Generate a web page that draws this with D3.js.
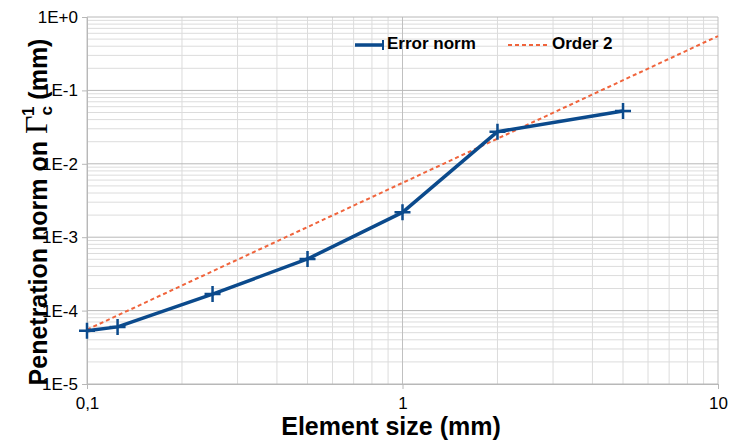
<!DOCTYPE html>
<html>
<head>
<meta charset="utf-8">
<script src="https://cdn.jsdelivr.net/npm/d3@7"></script>
<style>
  body { margin: 0; background: #fff; }
  text { font-family: "Liberation Sans", Arial, sans-serif; }
</style>
</head>
<body>
<svg width="731" height="441"></svg>
<script>
// data
const elemSize = [0.1, 0.125, 0.25, 0.5, 1, 2, 5];
const errorNorm = [5.3e-5, 6.0e-5, 1.68e-4, 5.05e-4, 2.18e-3, 2.74e-2, 5.24e-2];
const orderX = [0.1, 1, 10];
const order2 = [5.5e-5, 5.5e-3, 0.55];
const xTicks = [0.1, 1, 10];
const xTickLabels = ["0,1", "1", "10"];
const yTicks = [1e-5, 1e-4, 1e-3, 1e-2, 1e-1, 1];
const yTickLabels = ["1E-5", "1E-4", "1E-3", "1E-2", "1E-1", "1E+0"];

const svg = d3.select("svg");
const plotL = 87, plotR = 718, plotT = 17, plotB = 384;

const x = d3.scaleLog().domain([0.1, 10]).range([plotL, plotR]);
const y = d3.scaleLog().domain([1e-5, 1]).range([plotB, plotT]);

// minor grid (2..9 in every decade)
const minorX = [], minorY = [];
for (let d = 0.1; d < 10; d *= 10)
  for (let k = 2; k <= 9; k++) minorX.push(d * k);
for (let d = 1e-5; d < 1; d *= 10)
  for (let k = 2; k <= 9; k++) minorY.push(d * k);

svg.append("g").selectAll("line").data(minorX).join("line")
   .attr("x1", d => x(d)).attr("x2", d => x(d))
   .attr("y1", plotT).attr("y2", plotB)
   .attr("stroke", "#dcdcdc").attr("stroke-width", 1);

svg.append("g").selectAll("line").data(minorY).join("line")
   .attr("x1", plotL).attr("x2", plotR)
   .attr("y1", d => y(d)).attr("y2", d => y(d))
   .attr("stroke", "#dcdcdc").attr("stroke-width", 1);

// major grid
svg.append("g").selectAll("line").data(xTicks).join("line")
   .attr("x1", d => x(d)).attr("x2", d => x(d))
   .attr("y1", plotT).attr("y2", plotB)
   .attr("stroke", "#c0c0c0").attr("stroke-width", 1);

svg.append("g").selectAll("line").data(yTicks).join("line")
   .attr("x1", plotL).attr("x2", plotR)
   .attr("y1", d => y(d)).attr("y2", d => y(d))
   .attr("stroke", "#b8b8b8").attr("stroke-width", 1);

// axes (only labels + small ticks)
const xAxis = svg.append("g")
   .attr("transform", `translate(0,${plotB})`)
   .call(d3.axisBottom(x).tickValues(xTicks)
      .tickFormat((d, i) => xTickLabels[i]).tickSize(5).tickPadding(8));
xAxis.select(".domain").attr("stroke", "#b8b8b8");
xAxis.selectAll(".tick line").attr("stroke", "#b8b8b8");
xAxis.selectAll("text").attr("font-size", "17px").attr("fill", "#000")
   .attr("font-family", "Liberation Sans, Arial, sans-serif");

const yAxis = svg.append("g")
   .attr("transform", `translate(${plotL},0)`)
   .call(d3.axisLeft(y).tickValues(yTicks)
      .tickFormat((d, i) => yTickLabels[i]).tickSize(5).tickPadding(4));
yAxis.select(".domain").attr("stroke", "#b8b8b8");
yAxis.selectAll(".tick line").attr("stroke", "#b8b8b8");
yAxis.selectAll("text").attr("font-size", "17px").attr("fill", "#000")
   .attr("font-family", "Liberation Sans, Arial, sans-serif");

// order 2 reference line
const line = d3.line().x(d => x(d[0])).y(d => y(d[1]));
svg.append("path")
   .attr("d", line(orderX.map((v, i) => [v, order2[i]])))
   .attr("fill", "none")
   .attr("stroke", "#f0643c")
   .attr("stroke-width", 2)
   .attr("stroke-dasharray", "4,3");

// error norm series
const errData = elemSize.map((v, i) => [v, errorNorm[i]]);
svg.append("path")
   .attr("d", line(errData))
   .attr("fill", "none")
   .attr("stroke", "#0b4a8c")
   .attr("stroke-width", 3.5)
   .attr("stroke-linejoin", "round");

svg.append("g").selectAll("path").data(errData).join("path")
   .attr("d", d => `M${x(d[0]) - 8},${y(d[1])}h16M${x(d[0])},${y(d[1]) - 8}v16`)
   .attr("stroke", "#0b4a8c")
   .attr("stroke-width", 2.5);

// legend
svg.append("line")
   .attr("x1", 355).attr("x2", 384).attr("y1", 45).attr("y2", 45)
   .attr("stroke", "#0b4a8c").attr("stroke-width", 3.5);
svg.append("line")
   .attr("x1", 383).attr("x2", 383).attr("y1", 40).attr("y2", 50)
   .attr("stroke", "#0b4a8c").attr("stroke-width", 2);
svg.append("text")
   .attr("x", 387).attr("y", 49)
   .attr("font-size", "17px").attr("font-weight", "bold")
   .text("Error norm");

svg.append("line")
   .attr("x1", 508).attr("x2", 548).attr("y1", 45).attr("y2", 45)
   .attr("stroke", "#f0643c").attr("stroke-width", 2)
   .attr("stroke-dasharray", "4,3");
svg.append("text")
   .attr("x", 552).attr("y", 49)
   .attr("font-size", "17px").attr("font-weight", "bold")
   .text("Order 2");

// axis titles
svg.append("text")
   .attr("x", 391).attr("y", 435)
   .attr("text-anchor", "middle")
   .attr("font-size", "25px").attr("font-weight", "bold")
   .text("Element size (mm)");

const yTitle = svg.append("text")
   .attr("transform", "translate(47,212) rotate(-90)")
   .attr("text-anchor", "middle")
   .attr("font-size", "25px").attr("font-weight", "bold");
yTitle.append("tspan").text("Penetration norm on ");
yTitle.append("tspan")
   .attr("font-family", "Liberation Serif, Times New Roman, serif")
   .attr("font-size", "32px").attr("font-weight", "normal")
   .text("Γ");
yTitle.append("tspan").attr("font-size", "17px").attr("dy", 5).text("c");
yTitle.append("tspan").attr("font-size", "17px").attr("dx", -10).attr("dy", -18).text("1");
yTitle.append("tspan").attr("dy", 13).text(" (mm)");
</script>
</body>
</html>
